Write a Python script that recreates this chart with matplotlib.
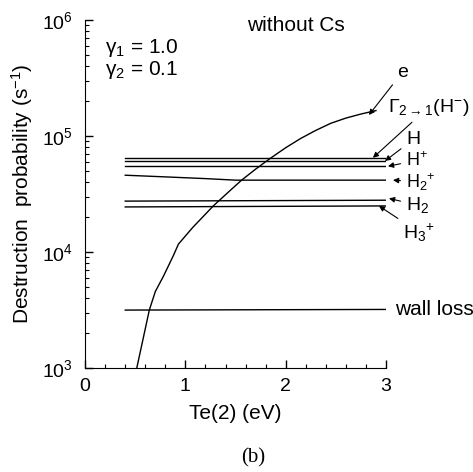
import matplotlib
matplotlib.use("Agg")
import matplotlib.pyplot as plt
from matplotlib.ticker import MultipleLocator, LogLocator, NullFormatter

plt.rcParams['font.family'] = ['Liberation Sans', 'DejaVu Sans']
plt.rcParams['mathtext.fontset'] = 'custom'
plt.rcParams['mathtext.rm'] = 'Liberation Sans'
plt.rcParams['mathtext.it'] = 'Liberation Sans:italic'
plt.rcParams['mathtext.sf'] = 'Liberation Sans'

# electron detachment curve
e_te = [0.515, 0.64, 0.70, 0.78, 0.88, 0.93, 1.07, 1.28, 1.445, 1.56, 1.70, 1.85,
        2.00, 2.15, 2.30, 2.45, 2.60, 2.75, 2.90]
e_rate = [1.0e3, 3.16e3, 4.57e3, 6.17e3, 9.33e3, 1.17e4, 1.62e4, 2.51e4, 3.39e4, 4.17e4,
          5.19e4, 6.46e4, 7.94e4, 9.55e4, 1.12e5, 1.29e5, 1.43e5, 1.55e5, 1.66e5]

# nearly flat channels
line_te = [0.4, 3.0]
gamma_rate = [6.5e4, 6.5e4]
h_rate = [6.1e4, 6.1e4]
hplus_rate = [5.5e4, 5.5e4]
h3plus_rate = [2.45e4, 2.5e4]
h2_rate = [2.75e4, 2.8e4]
wall_rate = [3.16e3, 3.2e3]
h2plus_te = [0.4, 0.8, 1.2, 1.5, 3.0]
h2plus_rate = [4.6e4, 4.45e4, 4.3e4, 4.17e4, 4.17e4]

fig = plt.figure(figsize=(4.73, 4.72), dpi=100)
ax = fig.add_axes([0.18, 0.2203, 0.636, 0.737])

lw = 1.0
ax.plot(e_te, e_rate, color='black', lw=lw)
for r in [gamma_rate, h_rate, hplus_rate, h2_rate, h3plus_rate, wall_rate]:
    ax.plot(line_te, r, color='black', lw=lw)
ax.plot(h2plus_te, h2plus_rate, color='black', lw=lw)

ax.set_yscale('log')
ax.set_xlim(0, 3)
ax.set_ylim(1e3, 1e6)
ax.spines['top'].set_visible(False)
ax.spines['right'].set_visible(False)
ax.xaxis.set_major_locator(MultipleLocator(1))
ax.xaxis.set_minor_locator(MultipleLocator(0.2))
ax.yaxis.set_major_locator(LogLocator(base=10, numticks=10))
ax.yaxis.set_minor_locator(LogLocator(base=10, subs=range(2, 10), numticks=10))
ax.yaxis.set_minor_formatter(NullFormatter())
ax.tick_params(which='both', direction='in', labelsize=14)
ax.tick_params(which='major', length=6, width=1)
ax.tick_params(which='minor', length=3, width=0.8)
ax.tick_params(axis='x', pad=7)
ax.tick_params(axis='y', pad=9)

ax.set_xlabel('Te(2) (eV)', fontsize=15, labelpad=7)
ax.set_ylabel('Destruction  probability (s$^{-1}$)', fontsize=15, labelpad=5)

ax.text(0.066, 0.92, 'γ$_1$ = 1.0', transform=ax.transAxes, fontsize=15, va='center')
ax.text(0.066, 0.856, 'γ$_2$ = 0.1', transform=ax.transAxes, fontsize=15, va='center')
ax.text(0.538, 0.986, 'without Cs', transform=ax.transAxes, fontsize=15, va='center')

arrow = dict(arrowstyle='-|>', color='black', lw=0.8, mutation_scale=8, shrinkA=2, shrinkB=0)

def label(text, xy, xytext, size=14):
    ax.annotate(text, xy=xy, xytext=xytext, fontsize=size, va='center', ha='left',
                arrowprops=arrow, annotation_clip=False)

label('e', (2.83, 1.52e5), (3.11, 10**5.552))
label(r'$\Gamma_{2\rightarrow1}(\mathrm{H}^{-})$', (2.87, gamma_rate[1]), (3.02, 10**5.25))
label('H', (2.99, h_rate[1]), (3.2, 10**4.97))
label('H$^{+}$', (3.02, hplus_rate[1]), (3.2, 10**4.79), size=13)
label('H$_2$$^{+}$', (3.07, h2plus_rate[-1]), (3.2, 10**4.605), size=13)
label('H$_2$', (3.03, 2.9e4), (3.2, 10**4.405))
label('H$_3$$^{+}$', (2.93, h3plus_rate[1]), (3.17, 10**4.17))
ax.text(3.09, wall_rate[1], 'wall loss', fontsize=15, va='center', ha='left', clip_on=False)

fig.text(0.535, 0.03, '(b)', fontsize=15, family='Liberation Serif', ha='center', va='center')

fig.savefig('out.png', dpi=100)
